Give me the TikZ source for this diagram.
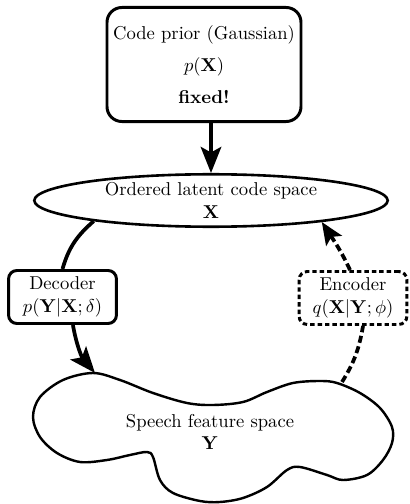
\documentclass[tikz,border=0pt]{standalone}
\usetikzlibrary{shapes.geometric,arrows.meta,calc}
\begin{document}
\begin{tikzpicture}[x=0.5376pt,y=0.5376pt,
  box/.style={draw,line width=1.6pt,rounded corners=8pt,align=center,inner sep=0pt},
  smallbox/.style={draw,line width=1.6pt,rounded corners=4.5pt,align=center,inner sep=0pt,
    minimum width=58pt,minimum height=28.5pt},
  space/.style={draw,line width=1.4pt,ellipse,align=center,inner sep=0pt},
  flow/.style={line width=2pt},
  bigtip/.style={-{Stealth[length=14pt,width=11pt,inset=3pt]}},
  dashedflow/.style={line width=2pt,dash pattern=on 3.8pt off 2pt},
  encbox/.style={smallbox,dash pattern=on 2.4pt off 1.6pt}]
\useasboundingbox (0,0) rectangle (409,504);

% code prior
\node[box,minimum width=104.3pt,minimum height=61.3pt] (prior) at (204,439.5)
  {Code prior (Gaussian)\\[5pt] $p(\mathbf{X})$\\[5pt] \textbf{fixed!}};

% latent code space
\node[space,minimum width=190pt,minimum height=28.2pt] (lat) at (211,303.5)
  {Ordered latent code space\\ $\mathbf{X}$};

% decoder and encoder
\node[smallbox] (dec) at (62.5,207) {Decoder\\ $p(\mathbf{Y}|\mathbf{X};\delta)$};
\node[encbox] (enc) at (353,206) {Encoder\\ $q(\mathbf{X}|\mathbf{Y};\phi)$};

% speech feature space (free-form blob)
\draw[line width=1.3pt] plot[smooth cycle,tension=0.55] coordinates {
  (93,131) (120,124) (153,111) (187,101) (213,99) (243,102) (267,112)
  (293,121) (320,123) (337,121) (360,111) (380,96) (392,77) (392,61)
  (383,44) (367,29) (343,24) (327,29) (300,37) (287,34) (267,17)
  (243,6) (220,2) (200,3) (173,11) (160,24) (153,47) (147,52)
  (130,49) (107,44) (80,42) (57,51) (40,67) (33,87) (40,107) (63,124)};
\node[align=center,inner sep=0pt] (feat) at (210,72) {Speech feature space\\ $\mathbf{Y}$};
\coordinate (ytop) at (95,131);
\coordinate (yright) at (342,122);

% connectors
\draw[flow,bigtip] (prior.south -| lat.north) -- (lat.north);
\draw[flow] (lat.190) to[out=221,in=74] (dec.north);
\draw[flow,bigtip] ([xshift=5.6pt]dec.south) to[out=280,in=130] (ytop);
\draw[dashedflow] (yright) to[out=58,in=260] ([xshift=5.4pt]enc.south);
\draw[dashedflow,-{Stealth[length=12pt,width=10pt,inset=2.5pt]}]
  ([xshift=-1.6pt]enc.north) to[out=115,in=303] (lat.349);
\end{tikzpicture}
\end{document}
